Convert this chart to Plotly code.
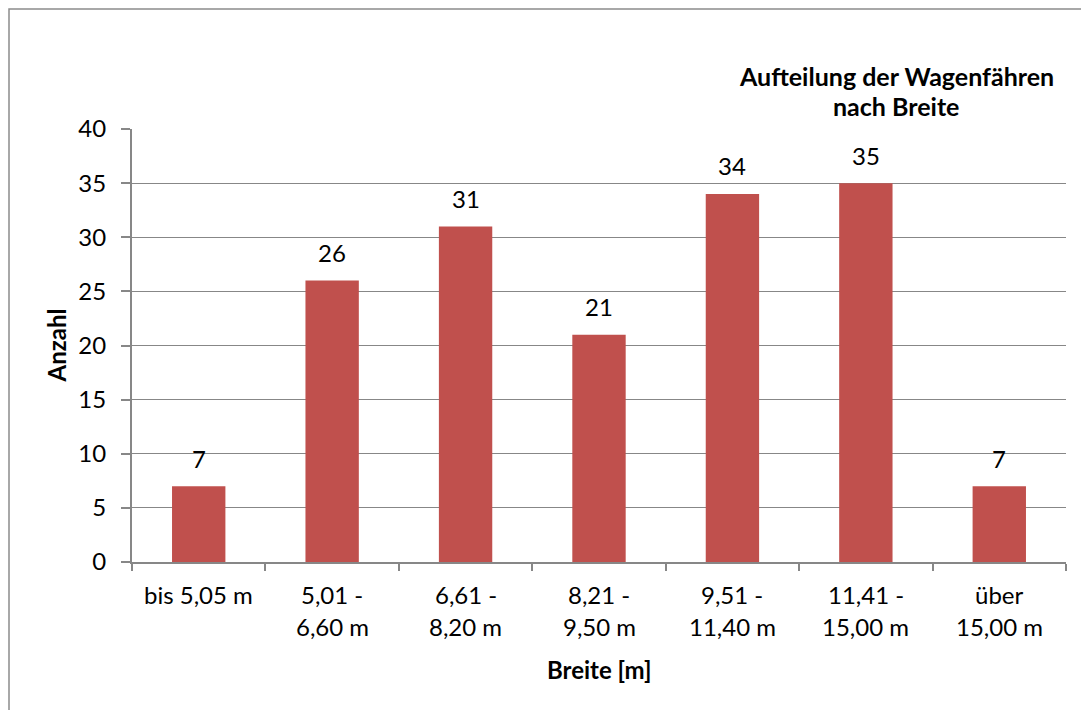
import plotly.graph_objects as go

# Wagenfähren nach Breite
categories = ["bis 5,05 m", "5,01 - 6,60 m", "6,61 - 8,20 m", "8,21 - 9,50 m",
              "9,51 - 11,40 m", "11,41 - 15,00 m", "über 15,00 m"]
label_line1 = ["bis 5,05 m", "5,01 -", "6,61 -", "8,21 -", "9,51 -", "11,41 -", "über"]
label_line2 = ["", "6,60 m", "8,20 m", "9,50 m", "11,40 m", "15,00 m", "15,00 m"]
counts = [7, 26, 31, 21, 34, 35, 7]
title_lines = ["Aufteilung der Wagenfähren", "nach Breite"]
y_title = "Anzahl"
x_title = "Breite [m]"

FONT = "Lato, 'Open Sans', sans-serif"
FS = 24
GRID = "#878787"
BAR = "#C0504D"

# the page puts the figure 8px in from the top left (body margin)
OFF = 8
PL, PR, PT, PB = 132, 1066, 129, 562   # plot area on the page
W, H = 1089 - OFF, 710 - OFF
L, T = PL - OFF, PT - OFF
R, B = W - (PR - OFF), H - (PB - OFF)


def px_x(x):
    return (x - PL) / (PR - PL)


def px_y(y):
    return (PB - y) / (PB - PT)


fig = go.Figure(go.Bar(x=categories, y=counts, marker_color=BAR, marker_line_width=0))

annotations = []
# value labels above bars
for cat, val in zip(categories, counts):
    annotations.append(dict(x=cat, y=val, xref="x", yref="y", text=str(val), showarrow=False,
                            yanchor="middle", yshift=28, font=dict(size=FS, color="black")))
# two-line category labels
for cat, l1, l2 in zip(categories, label_line1, label_line2):
    annotations.append(dict(x=cat, y=0, xref="x", yref="paper", text=l1, showarrow=False,
                            yanchor="middle", yshift=-32, font=dict(size=FS, color="black")))
    if l2:
        annotations.append(dict(x=cat, y=0, xref="x", yref="paper", text=l2, showarrow=False,
                                yanchor="middle", yshift=-64, font=dict(size=FS, color="black")))
# chart title, right side
for i, line in enumerate(title_lines):
    annotations.append(dict(x=px_x(896), y=px_y(76 + 30 * i), xref="paper", yref="paper",
                            text=f"<b>{line}</b>", showarrow=False, xanchor="center",
                            yanchor="middle", font=dict(size=25, color="black")))
# axis titles
annotations.append(dict(x=px_x(599), y=px_y(669), xref="paper", yref="paper",
                        text=f"<b>{x_title}</b>", showarrow=False, yanchor="middle",
                        font=dict(size=FS, color="black")))
annotations.append(dict(x=px_x(56), y=0.5, xref="paper", yref="paper", textangle=-90,
                        text=f"<b>{y_title}</b>", showarrow=False, xanchor="center",
                        font=dict(size=FS, color="black")))

fig.update_layout(
    width=W, height=H,
    margin=dict(l=L, r=R, t=T, b=B),
    paper_bgcolor="white", plot_bgcolor="white",
    font=dict(family=FONT, size=FS, color="black"),
    bargap=0.6,
    showlegend=False,
    annotations=annotations,
    shapes=[dict(type="rect", xref="paper", yref="paper",
                 x0=px_x(OFF + 1), x1=1.2, y0=-0.6, y1=px_y(OFF + 1),
                 line=dict(color="#8c8c8c", width=1.5), layer="below")],
)
fig.update_xaxes(
    showticklabels=False, showgrid=False,
    showline=True, linecolor=GRID, linewidth=2,
    ticks="outside", tickson="boundaries", ticklen=7, tickcolor=GRID, tickwidth=1.5,
)
fig.update_yaxes(
    range=[0, 40], dtick=5, showgrid=True, gridcolor=GRID, gridwidth=1.3,
    showline=True, linecolor=GRID, linewidth=2, zeroline=False,
    ticks="outside", ticklen=9, tickcolor=GRID, tickwidth=1.5,
    ticklabelstandoff=10, tickfont=dict(size=FS),
)

fig.write_html("out.html")
